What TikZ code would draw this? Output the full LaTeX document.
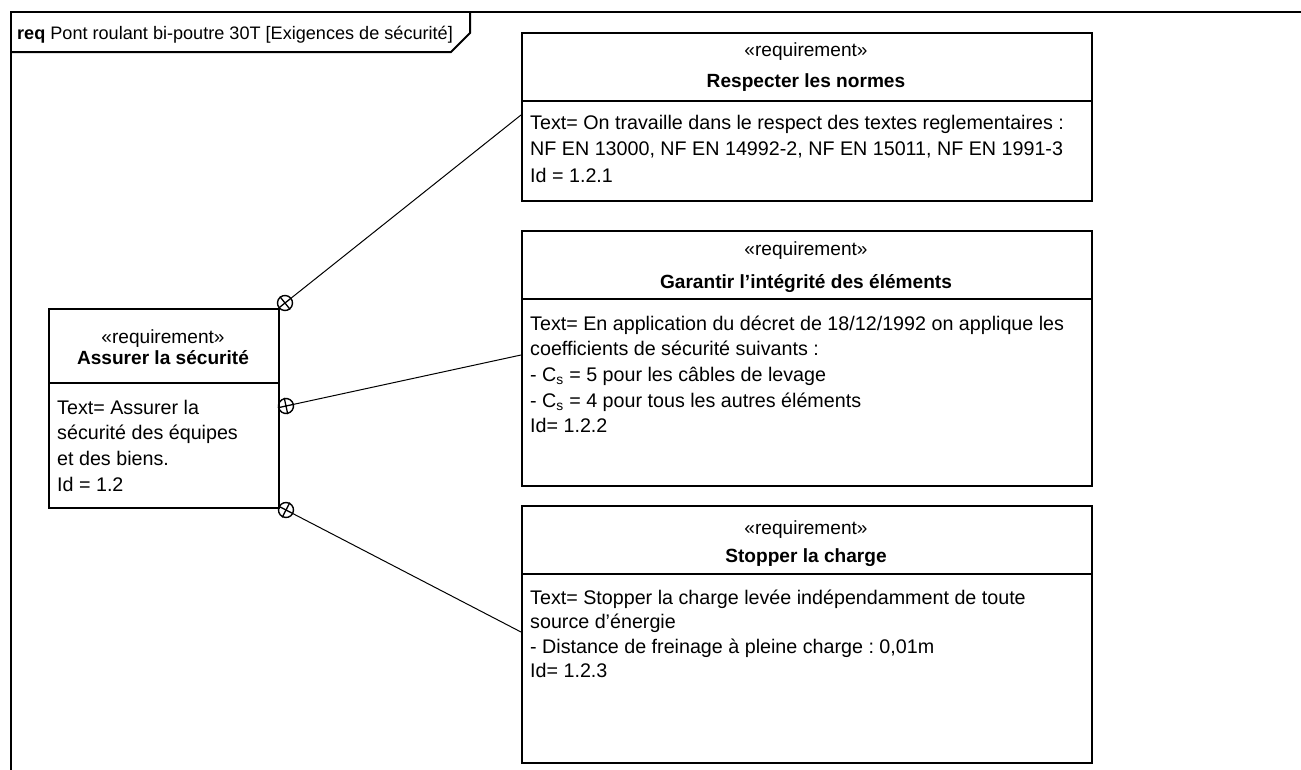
\documentclass[tikz,border=0pt]{standalone}
\usepackage{fontspec}
\setmainfont{Liberation Sans}
\frenchspacing
\newcommand{\headfont}{\fontsize{19.1}{23}\selectfont}
% body text of a requirement: line pitch, then the lines
\newcommand{\bodylines}[2]{\parbox[t]{560pt}{\fontsize{19.7}{#1}\selectfont\raggedright #2\par}}
\begin{document}
\begin{tikzpicture}[x=1pt,y=-1pt,
  frameline/.style={line width=2pt},
  reqbox/.style={draw, line width=1.6pt, anchor=north west, inner sep=0pt},
  divider/.style={line width=1.4pt},
  stereo/.style={anchor=base, inner sep=0pt, font=\headfont},
  reqtitle/.style={anchor=base, inner sep=0pt, font=\headfont\bfseries},
  bodytext/.style={anchor=base west, inner sep=0pt},
  contain/.style={draw, circle, line width=1.4pt, minimum size=15pt, inner sep=0pt},
  link/.style={line width=1pt}]
\useasboundingbox (0,0) rectangle (1301,769);

% diagram frame and its name tab
\draw[frameline] (11,775) -- (11,12) -- (1310,12);
\draw[frameline] (11,52) -- (451,52) -- (470,33) -- (470,12);
\node[anchor=base west, inner sep=0pt, font=\fontsize{18.1}{22}\selectfont] (framelabel) at (17,39)
  {\textbf{req} Pont roulant bi-poutre 30T [Exigences de sécurité]};

% parent requirement
\node[reqbox, minimum width=230pt, minimum height=199pt] (root) at (48,308) {};
\draw[divider] (root.west |- 0,383) -- (root.east |- 0,383);
\node[stereo] (roots) at (163,343) {«requirement»};
\node[reqtitle] (roott) at (163,364) {Assurer la sécurité};
\node[bodytext] (rootb) at (57,414) {\bodylines{25.7}{Text= Assurer la\\ sécurité des équipes\\ et des biens.\\ Id = 1.2}};

% sub-requirement 1.2.1
\node[reqbox, minimum width=570pt, minimum height=168pt] (r1) at (521,32) {};
\draw[divider] (r1.west |- 0,101) -- (r1.east |- 0,101);
\node[stereo] (r1s) at (806,56) {«requirement»};
\node[reqtitle] (r1t) at (806,87) {Respecter les normes};
\node[bodytext] (r1b) at (530,129) {\bodylines{26.5}{Text= On travaille dans le respect des textes reglementaires :\\ NF EN 13000, NF EN 14992-2, NF EN 15011, NF EN 1991-3\\ Id = 1.2.1}};

% sub-requirement 1.2.2
\node[reqbox, minimum width=570pt, minimum height=255pt] (r2) at (521,230) {};
\draw[divider] (r2.west |- 0,299) -- (r2.east |- 0,299);
\node[stereo] (r2s) at (806,255) {«requirement»};
\node[reqtitle] (r2t) at (806,288) {Garantir l’intégrité des éléments};
\node[bodytext] (r2b) at (530,330) {\bodylines{25.7}{Text= En application du décret de 18/12/1992 on applique les\\ coefficients de sécurité suivants :\\ - C\textsubscript{s} = 5 pour les câbles de levage\\ - C\textsubscript{s} = 4 pour tous les autres éléments\\ Id= 1.2.2}};

% sub-requirement 1.2.3
\node[reqbox, minimum width=570pt, minimum height=257pt] (r3) at (521,505) {};
\draw[divider] (r3.west |- 0,574) -- (r3.east |- 0,574);
\node[stereo] (r3s) at (806,534) {«requirement»};
\node[reqtitle] (r3t) at (806,562) {Stopper la charge};
\node[bodytext] (r3b) at (530,604) {\bodylines{24.5}{Text= Stopper la charge levée indépendamment de toute\\ source d’énergie\\ - Distance de freinage à pleine charge : 0,01m\\ Id= 1.2.3}};

% containment ends (circle with a cross along the link)
\node[contain, rotate=38.5] (c1) at (285,303) {};
\node[contain, rotate=12.2] (c2) at (286,406) {};
\node[contain, rotate=-27.4] (c3) at (286,510) {};
\foreach \c in {c1,c2,c3}{
  \draw[line width=1.3pt] (\c.north) -- (\c.south) (\c.east) -- (\c.west);
}

% attachment points on the child requirements
\coordinate (p1) at (521,115);
\coordinate (p2) at (521,355);
\coordinate (p3) at (521,632);
\draw[link] (c1) -- (p1);
\draw[link] (c2) -- (p2);
\draw[link] (c3) -- (p3);
\end{tikzpicture}
\end{document}
